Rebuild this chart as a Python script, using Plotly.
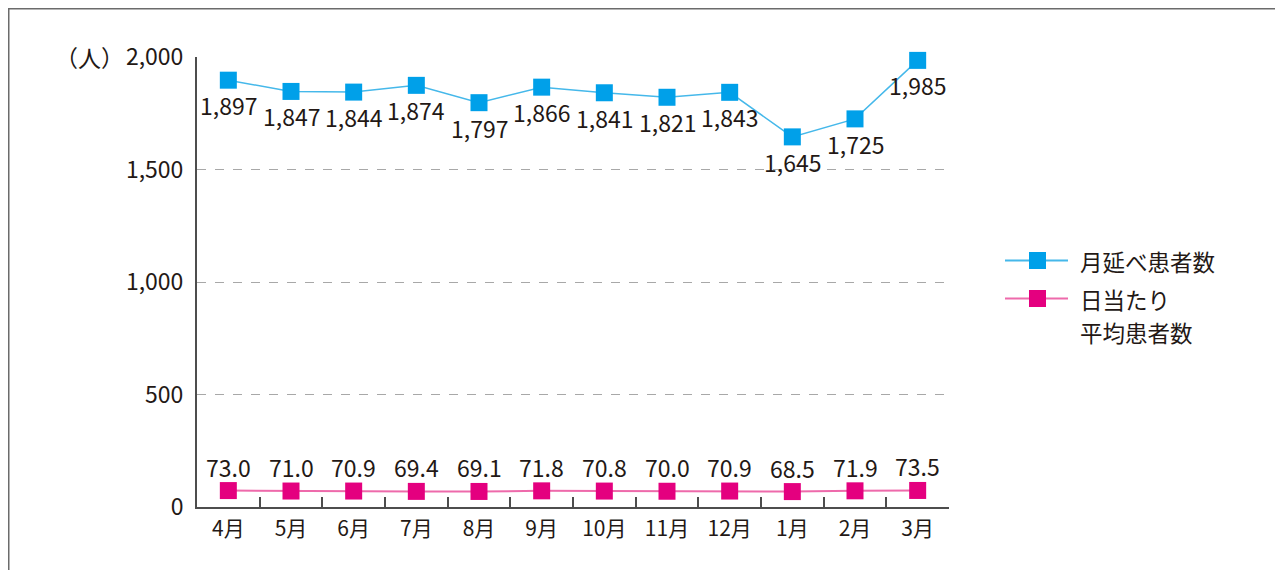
import plotly.graph_objects as go

months = ["4月", "5月", "6月", "7月", "8月", "9月", "10月", "11月", "12月", "1月", "2月", "3月"]
monthly_total = [1897, 1847, 1844, 1874, 1797, 1866, 1841, 1821, 1843, 1645, 1725, 1985]
daily_avg = [73.0, 71.0, 70.9, 69.4, 69.1, 71.8, 70.8, 70.0, 70.9, 68.5, 71.9, 73.5]
y_ticks = [0, 500, 1000, 1500, 2000]
y_tick_labels = ["0", "500", "1,000", "1,500", "2,000"]
series_names = ["月延べ患者数", "日当たり<br>平均患者数"]

FONT = "Noto Sans CJK JP, Noto Sans, sans-serif"
TXT = "#231815"
BLUE, BLUE_LINE = "#00A0E9", "#45B8EA"
PINK, PINK_LINE = "#E4007F", "#EE6AAB"
NUM_SIZE = 23

# the page places the figure 8px from the window's top-left corner
OFF = 8
W, H = 1283 - OFF, 570 - OFF
L, T = 197 - OFF, 57 - OFF
R = W - (949 - OFF)
B = H - (507 - OFF)
PW, PH = W - L - R, H - T - B


def px_x(px):  # px in window coords
    return (px - OFF - L) / PW


def px_y(py):
    return (H - B - (py - OFF)) / PH


fig = go.Figure()
fig.add_trace(go.Scatter(
    x=months, y=monthly_total, name=series_names[0],
    mode="lines+markers",
    line=dict(color=BLUE_LINE, width=1.5),
    marker=dict(symbol="square", size=17, color=BLUE),
    cliponaxis=False, showlegend=False,
))
fig.add_trace(go.Scatter(
    x=months, y=daily_avg, name=series_names[1],
    mode="lines+markers",
    line=dict(color=PINK_LINE, width=2),
    marker=dict(symbol="square", size=17, color=PINK),
    cliponaxis=False, showlegend=False,
))

annotations = [dict(
    x=m, y=v, xref="x", yref="y", text=f"{v:,}", showarrow=False,
    yshift=-25, xanchor="center", yanchor="middle",
    font=dict(size=NUM_SIZE, color=TXT, family=FONT),
) for m, v in zip(months, monthly_total)]
annotations += [dict(
    x=m, y=v, xref="x", yref="y", text=f"{v:.1f}", showarrow=False,
    yshift=24, xanchor="center", yanchor="middle",
    font=dict(size=NUM_SIZE, color=TXT, family=FONT),
) for m, v in zip(months, daily_avg)]
annotations.append(dict(
    text="（人）", xref="paper", yref="paper", x=px_x(126), y=1.0,
    xanchor="right", yanchor="middle", showarrow=False,
    font=dict(size=23, color=TXT, family=FONT),
))

# legend drawn by hand so its line length and spacing follow the reference
shapes = [
    dict(type="line", xref="paper", yref="paper", x0=px_x(8), x1=px_x(1300),
         y0=px_y(8.5), y1=px_y(8.5), line=dict(color="#6b6b6b", width=2)),
    dict(type="line", xref="paper", yref="paper", x0=px_x(8.5), x1=px_x(8.5),
         y0=px_y(8), y1=px_y(600), line=dict(color="#6b6b6b", width=2)),
]
legend_rows = [(260.5, BLUE, BLUE_LINE, [series_names[0]]),
               (298.5, PINK, PINK_LINE, series_names[1].split("<br>"))]
for cy, mc, lc, lines in legend_rows:
    shapes.append(dict(type="line", xref="paper", yref="paper",
                       x0=px_x(1005), x1=px_x(1068), y0=px_y(cy), y1=px_y(cy),
                       line=dict(color=lc, width=2)))
    shapes.append(dict(type="rect", xref="paper", yref="paper",
                       x0=px_x(1029), x1=px_x(1046), y0=px_y(cy - 8.5), y1=px_y(cy + 8.5),
                       line=dict(width=0), fillcolor=mc))
    for i, t in enumerate(lines):
        annotations.append(dict(
            text=t, xref="paper", yref="paper", x=px_x(1078), y=px_y(cy + 33 * i),
            xanchor="left", yanchor="middle", showarrow=False,
            font=dict(size=22.5, color=TXT, family=FONT),
        ))

fig.update_layout(
    width=W, height=H,
    margin=dict(l=L, r=R, t=T, b=B, autoexpand=False),
    paper_bgcolor="white", plot_bgcolor="white",
    font=dict(family=FONT, size=20, color=TXT),
    showlegend=False,
    xaxis=dict(
        type="category", range=[-0.5, len(months) - 0.5],
        showline=True, linecolor="#4d4d4d", linewidth=2,
        ticks="inside", tickson="boundaries", ticklen=10, tickcolor="#4d4d4d", tickwidth=1.5,
        showgrid=False, tickfont=dict(size=21, color=TXT, family=FONT),
        ticklabelstandoff=2,
        fixedrange=True,
    ),
    yaxis=dict(
        range=[0, 2000], tickvals=y_ticks, ticktext=y_tick_labels,
        showline=True, linecolor="#4d4d4d", linewidth=2,
        showgrid=True, gridcolor="#a8a8a8", griddash="dash", gridwidth=1,
        zeroline=False, ticks="", ticklabelstandoff=7,
        tickfont=dict(size=NUM_SIZE, color=TXT, family=FONT),
        fixedrange=True,
    ),
    annotations=annotations,
    shapes=shapes,
)

fig.write_html("out.html")
